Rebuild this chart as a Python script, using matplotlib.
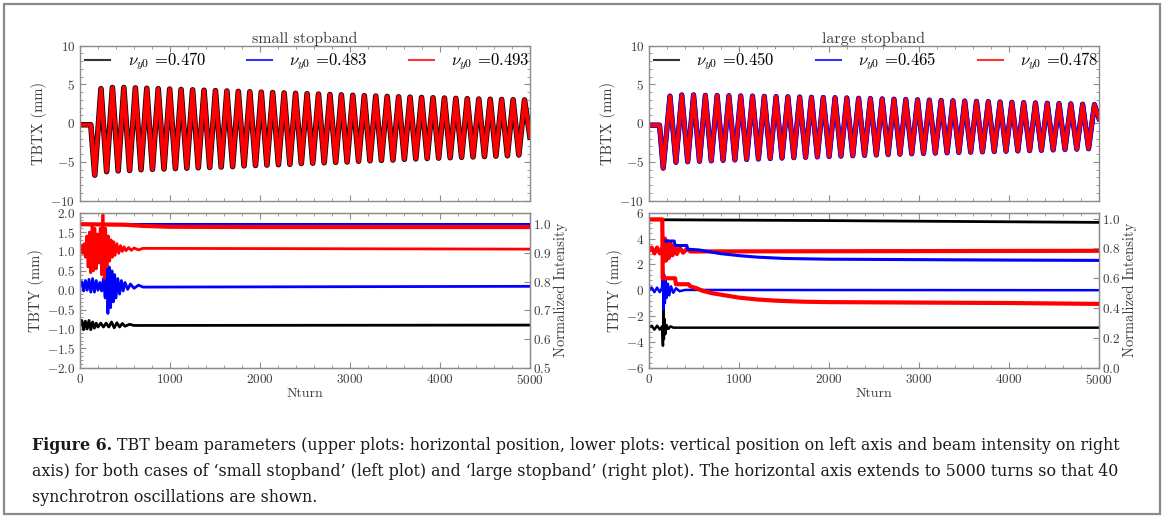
import matplotlib
matplotlib.use("Agg")
import matplotlib.pyplot as plt
from matplotlib.ticker import MultipleLocator, AutoMinorLocator
from matplotlib.lines import Line2D
from matplotlib.patches import Rectangle

# ---------------- DATA ----------------
turn_ticks = [0, 1000, 2000, 3000, 4000, 5000]
small_tunes = ["0.470", "0.483", "0.493"]
large_tunes = ["0.450", "0.465", "0.478"]
series_colors = ["black", "blue", "red"]

# --- upper plots: horizontal position (the three tunes overlap within line width)
small_x_start_turns = [0, 120, 164]
small_x_start_vals = [-0.2, -0.2, -6.7]
small_x_peak_turns = [233, 360, 487, 615, 742, 869, 996, 1123, 1251, 1378, 1505, 1632, 1759,
                      1887, 2014, 2141, 2268, 2395, 2523, 2650, 2777, 2904, 3031, 3159, 3286,
                      3413, 3540, 3667, 3795, 3922, 4049, 4176, 4303, 4431, 4558, 4685, 4812, 4939]
small_x_peak_vals = [4.45, 4.6, 4.6, 4.55, 4.5, 4.45, 4.4, 4.35, 4.3, 4.25, 4.2, 4.15, 4.1,
                     4.05, 4.0, 3.95, 3.9, 3.85, 3.8, 3.75, 3.7, 3.65, 3.6, 3.55, 3.5,
                     3.45, 3.4, 3.36, 3.32, 3.28, 3.24, 3.2, 3.16, 3.12, 3.09, 3.06, 3.03, 3.0]
small_x_trough_turns = [296, 424, 551, 678, 805, 933, 1060, 1187, 1314, 1441, 1569, 1696, 1823,
                        1950, 2077, 2205, 2332, 2459, 2586, 2713, 2841, 2968, 3095, 3222, 3349,
                        3477, 3604, 3731, 3858, 3985, 4113, 4240, 4367, 4494, 4621, 4749, 4876]
small_x_trough_vals = [-6.25, -6.15, -6.1, -6.0, -5.95, -5.9, -5.85, -5.8, -5.75, -5.7, -5.65,
                       -5.6, -5.5, -5.45, -5.4, -5.35, -5.3, -5.2, -5.15, -5.1, -5.05, -5.0,
                       -4.9, -4.85, -4.8, -4.75, -4.65, -4.6, -4.55, -4.5, -4.45, -4.4, -4.35,
                       -4.3, -4.25, -4.2, -4.1]
small_x_end = (5000, -1.8)

large_x_start_turns = [0, 117, 158]
large_x_start_vals = [-0.25, -0.25, -5.8]
large_x_peak_turns = [233, 364, 495, 626, 757, 888, 1019, 1150, 1281, 1412, 1543, 1674, 1805,
                      1936, 2067, 2198, 2329, 2460, 2591, 2722, 2853, 2984, 3115, 3246, 3377,
                      3508, 3639, 3770, 3901, 4032, 4163, 4294, 4425, 4556, 4687, 4818, 4949]
large_x_peak_vals = [3.5, 3.65, 3.65, 3.6, 3.58, 3.55, 3.52, 3.5, 3.47, 3.44, 3.41, 3.38, 3.35,
                     3.32, 3.29, 3.26, 3.22, 3.18, 3.14, 3.1, 3.06, 3.02, 2.98, 2.94, 2.9,
                     2.86, 2.82, 2.78, 2.74, 2.7, 2.66, 2.62, 2.58, 2.54, 2.5, 2.45, 2.4]
large_x_trough_turns = [299, 430, 561, 692, 823, 954, 1085, 1216, 1347, 1478, 1609, 1740, 1871,
                        2002, 2133, 2264, 2395, 2526, 2657, 2788, 2919, 3050, 3181, 3312, 3443,
                        3574, 3705, 3836, 3967, 4098, 4229, 4360, 4491, 4622, 4753, 4884]
large_x_trough_vals = [-5.05, -4.98, -4.92, -4.86, -4.8, -4.74, -4.68, -4.62, -4.56, -4.5,
                       -4.45, -4.4, -4.35, -4.3, -4.25, -4.2, -4.15, -4.1, -4.05, -4.0, -3.95,
                       -3.9, -3.86, -3.82, -3.78, -3.74, -3.7, -3.66, -3.62, -3.58, -3.54,
                       -3.5, -3.45, -3.4, -3.35, -3.3]
large_x_end = (5000, 0.6)

# --- lower plots, small stopband: vertical position (mm)
small_y_black_turns = [0, 20, 40, 60, 80, 100, 120, 140, 160, 180, 200, 230, 260, 290, 320, 350,
                       380, 410, 440, 470, 500, 550, 600, 5000]
small_y_black_vals = [-0.9, -0.78, -1.02, -0.8, -1.0, -0.78, -1.02, -0.82, -0.98, -0.85, -0.95,
                      -0.85, -0.95, -0.85, -0.95, -0.82, -0.97, -0.84, -0.95, -0.86, -0.93,
                      -0.88, -0.91, -0.9]
small_y_blue_turns = [0, 20, 40, 60, 80, 100, 120, 140, 160, 180, 200, 220, 240, 260, 280, 295,
                      310, 325, 340, 355, 370, 385, 400, 420, 440, 460, 480, 500, 530, 560, 600,
                      650, 700, 5000]
small_y_blue_vals = [0.1, 0.22, -0.02, 0.25, 0.0, 0.28, -0.05, 0.3, -0.05, 0.25, 0.0, 0.2, -0.02,
                     0.3, -0.2, 0.75, -0.6, 0.6, -0.45, 0.5, -0.3, 0.4, -0.2, 0.3, -0.1, 0.25,
                     -0.02, 0.2, 0.02, 0.16, 0.05, 0.13, 0.08, 0.1]
small_y_red_turns = [0, 15, 30, 45, 60, 75, 90, 105, 120, 135, 150, 165, 180, 195, 210, 225, 240,
                     255, 270, 285, 300, 315, 330, 345, 360, 375, 390, 410, 430, 450, 470, 490,
                     510, 540, 570, 600, 650, 700, 5000]
small_y_red_vals = [1.05, 1.15, 0.95, 1.2, 0.85, 1.4, 0.6, 1.5, 0.45, 1.7, 0.5, 1.6, 0.55, 1.45,
                    0.7, 1.6, 0.4, 1.95, 0.3, 1.6, 0.6, 1.4, 0.75, 1.3, 0.85, 1.25, 0.9, 1.2,
                    0.95, 1.15, 1.0, 1.12, 1.02, 1.1, 1.03, 1.09, 1.04, 1.08, 1.06]
# --- lower plots, small stopband: normalized intensity
small_int_turns = [0, 500, 700, 1000, 2000, 3000, 4000, 5000]
small_int_black = [1.0, 1.0, 1.0, 1.0, 1.0, 1.0, 1.0, 1.0]
small_int_blue = [1.0, 1.0, 1.0, 1.0, 1.0, 1.0, 1.0, 1.0]
small_int_red = [1.0, 0.998, 0.994, 0.991, 0.99, 0.99, 0.99, 0.99]

# --- lower plots, large stopband: vertical position (mm)
large_y_black_turns = [0, 30, 60, 90, 120, 145, 155, 160, 165, 170, 180, 195, 215, 240, 270, 5000]
large_y_black_vals = [-2.9, -2.75, -3.05, -2.75, -3.05, -2.8, -4.3, -1.5, -3.8, -2.2, -3.4, -2.7,
                      -3.0, -2.8, -2.9, -2.9]
large_y_blue_turns = [0, 30, 60, 90, 120, 145, 155, 160, 168, 176, 185, 195, 210, 225, 245, 270,
                      300, 340, 400, 5000]
large_y_blue_vals = [0.0, 0.2, -0.15, 0.2, -0.15, 0.2, 1.8, -1.5, 1.2, -1.0, 0.8, -0.6, 0.5, -0.4,
                     0.3, -0.2, 0.15, -0.08, 0.02, 0.0]
large_y_red_turns = [0, 30, 60, 90, 120, 150, 160, 175, 190, 205, 220, 240, 260, 285, 310, 340,
                     380, 420, 460, 5000]
large_y_red_vals = [3.05, 3.3, 2.85, 3.3, 2.85, 3.3, 2.2, 4.0, 2.3, 3.8, 2.5, 3.6, 2.7, 3.4, 2.8,
                    3.3, 2.9, 3.2, 3.0, 3.05]
# --- lower plots, large stopband: normalized intensity
large_int_black_turns = [0, 1000, 2000, 3000, 4000, 5000]
large_int_black = [0.993, 0.99, 0.987, 0.983, 0.979, 0.975]
large_int_blue_turns = [0, 148, 152, 280, 290, 420, 430, 560, 600, 700, 800, 1000, 1200, 1500,
                        2000, 3000, 4000, 5000]
large_int_blue = [0.995, 0.995, 0.85, 0.85, 0.82, 0.82, 0.795, 0.79, 0.785, 0.775, 0.765, 0.752,
                  0.742, 0.733, 0.728, 0.725, 0.722, 0.72]
large_int_red_turns = [0, 148, 152, 290, 300, 440, 460, 520, 560, 600, 700, 800, 900, 1000, 1200,
                       1400, 1700, 2000, 3000, 4000, 5000]
large_int_red = [0.995, 0.995, 0.6, 0.6, 0.56, 0.56, 0.545, 0.535, 0.525, 0.515, 0.5, 0.49,
                 0.48, 0.47, 0.458, 0.45, 0.443, 0.44, 0.437, 0.434, 0.428]

caption_bold = "Figure 6."
caption_lines = [
    " TBT beam parameters (upper plots: horizontal position, lower plots: vertical position on left axis and beam intensity on right",
    "axis) for both cases of \u2018small stopband\u2019 (left plot) and \u2018large stopband\u2019 (right plot). The horizontal axis extends to 5000 turns so that 40",
    "synchrotron oscillations are shown.",
]

# ---------------- STYLE ----------------
plt.rcParams["font.family"] = "cmr10"
plt.rcParams["mathtext.fontset"] = "cm"
plt.rcParams["axes.formatter.use_mathtext"] = True
plt.rcParams["axes.unicode_minus"] = True

W, H = 1165, 517
SPINE = "#8c8c8c"
TXT = "#3c3c3c"

fig = plt.figure(figsize=(W / 100, H / 100), dpi=100)


def rect(x0, ytop, w, h):
    return [x0 / W, 1 - (ytop + h) / H, w / W, h / H]


def build_trace(st, sv, pt, pv, tt, tv, end):
    xs, ys = list(st), list(sv)
    for i in range(len(pt)):
        xs.append(pt[i]); ys.append(pv[i])
        if i < len(tt):
            xs.append(tt[i]); ys.append(tv[i])
    xs.append(end[0]); ys.append(end[1])
    return xs, ys


def style_axis(ax, right=True):
    for s in ax.spines.values():
        s.set_color(SPINE)
        s.set_linewidth(1.0)
    ax.tick_params(which="both", direction="in", top=True, right=right, color=SPINE,
                   labelcolor=TXT, labelsize=9.5)
    ax.tick_params(which="major", length=4)
    ax.tick_params(which="minor", length=2)
    ax.xaxis.set_minor_locator(AutoMinorLocator(5))
    ax.yaxis.set_minor_locator(AutoMinorLocator(5))


def make_panel(x0, title, tunes, xtrace, lws, ylow, int_lim, int_step, y_step, ydata, idata,
               ylws, ilws):
    axt = fig.add_axes(rect(x0, 45.7, 450, 155))
    xs, ys = xtrace
    for c, lw in zip(series_colors, lws):
        axt.plot(xs, ys, color=c, lw=lw, solid_joinstyle="round")
    axt.set_xlim(0, 5000)
    axt.set_ylim(-10, 10)
    axt.xaxis.set_major_locator(MultipleLocator(1000))
    axt.yaxis.set_major_locator(MultipleLocator(5))
    style_axis(axt)
    axt.tick_params(labelbottom=False)
    axt.set_ylabel("TBTX (mm)", fontsize=10.5, color=TXT, labelpad=2)
    axt.set_title(title, fontsize=11.5, color=TXT, pad=2)
    handles = [Line2D([], [], color=c, lw=1.5, alpha=0.8) for c in series_colors]
    labels = [r"$\nu_{y0}$ =" + t for t in tunes]
    axt.legend(handles, labels, loc="upper left", ncol=3, frameon=False, fontsize=12,
               handlelength=1.5, handletextpad=1.05, columnspacing=2.45,
               borderaxespad=0.1, borderpad=0.2, bbox_to_anchor=(0.0, 1.0))

    axb = fig.add_axes(rect(x0, 212.7, 450, 155))
    for c, (t, v), lw in zip(series_colors, ydata, ylws):
        axb.plot(t, v, color=c, lw=lw, solid_joinstyle="round")
    axb.set_xlim(0, 5000)
    axb.set_ylim(-ylow, ylow)
    axb.xaxis.set_major_locator(MultipleLocator(1000))
    axb.yaxis.set_major_locator(MultipleLocator(y_step))
    style_axis(axb, right=False)
    axb.set_xticks(turn_ticks)
    axb.set_ylabel("TBTY (mm)", fontsize=10.5, color=TXT, labelpad=2)
    axb.set_xlabel("Nturn", fontsize=10, color=TXT, labelpad=1)

    ax2 = axb.twinx()
    for c, (t, v), lw in zip(series_colors, idata, ilws):
        ax2.plot(t, v, color=c, lw=lw, solid_joinstyle="round")
    ax2.set_ylim(*int_lim)
    ax2.yaxis.set_major_locator(MultipleLocator(int_step))
    for s in ax2.spines.values():
        s.set_color(SPINE)
    ax2.tick_params(which="both", direction="in", color=SPINE, labelcolor=TXT, labelsize=9.5,
                    pad=2)
    ax2.tick_params(which="major", length=4)
    ax2.set_ylabel("Normalized Intensity", fontsize=10.5, color=TXT, labelpad=2)
    return axt, axb, ax2


small_trace = build_trace(small_x_start_turns, small_x_start_vals, small_x_peak_turns,
                          small_x_peak_vals, small_x_trough_turns, small_x_trough_vals, small_x_end)
large_trace = build_trace(large_x_start_turns, large_x_start_vals, large_x_peak_turns,
                          large_x_peak_vals, large_x_trough_turns, large_x_trough_vals, large_x_end)

make_panel(80, "small stopband", small_tunes, small_trace, [4.0, 2.4, 2.9], 2.0, (0.5, 1.04), 0.1, 0.5,
           [(small_y_black_turns, small_y_black_vals), (small_y_blue_turns, small_y_blue_vals),
            (small_y_red_turns, small_y_red_vals)],
           [(small_int_turns, small_int_black), (small_int_turns, small_int_blue),
            (small_int_turns, small_int_red)],
           [2.0, 2.0, 2.0], [2.0, 2.2, 3.0])

make_panel(649, "large stopband", large_tunes, large_trace, [3.4, 3.8, 2.8], 6.0, (0.0, 1.04), 0.2, 2,
           [(large_y_black_turns, large_y_black_vals), (large_y_blue_turns, large_y_blue_vals),
            (large_y_red_turns, large_y_red_vals)],
           [(large_int_black_turns, large_int_black), (large_int_blue_turns, large_int_blue),
            (large_int_red_turns, large_int_red)],
           [1.8, 1.8, 3.0], [2.0, 2.2, 3.0])

# ---------------- border and caption ----------------
fig.patches.append(Rectangle((4 / W, 3.5 / H), 1156 / W, 510 / H, transform=fig.transFigure,
                             fill=False, edgecolor="#8a8a8a", lw=1.6))

CAP_FAMILY = "DejaVu Serif"
fig.canvas.draw()
renderer = fig.canvas.get_renderer()
probe_b = fig.text(0, 0, caption_bold, fontweight="bold", family=CAP_FAMILY, fontsize=12)
probe_1 = fig.text(0, 0, caption_lines[0], family=CAP_FAMILY, fontsize=12)
w_line1 = probe_b.get_window_extent(renderer).width + probe_1.get_window_extent(renderer).width
probe_b.remove()
probe_1.remove()
cap_size = 12 * (1118 - 32) / w_line1

cap_font = dict(family=CAP_FAMILY, fontsize=cap_size, color="#1a1a1a", va="center")
tb = fig.text(32 / W, 1 - 445 / H, caption_bold, fontweight="bold", **cap_font)
bb = tb.get_window_extent(renderer)
fig.text(bb.x1 / W, 1 - 445 / H, caption_lines[0], **cap_font)
fig.text(32 / W, 1 - 471 / H, caption_lines[1], **cap_font)
fig.text(32 / W, 1 - 497 / H, caption_lines[2], **cap_font)

fig.savefig("out.png", dpi=100)
